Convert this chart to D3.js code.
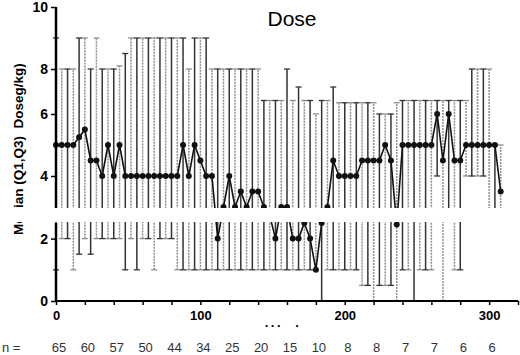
<!DOCTYPE html>
<html lang="en">
<head>
<meta charset="UTF-8">
<title>Dose</title>
<script src="https://d3js.org/d3.v7.min.js"></script>
<style>
    body {margin: 0; background: #fff;}
    svg {display: block; font-family: "Liberation Sans", Arial, sans-serif;}
</style>
</head>
<body>
<script>
    const width = 520;
    const height = 355;

    // day of each measurement
    const days = [0, 4, 8, 12, 16, 20, 24, 28, 32, 36, 40, 44, 48, 52, 56, 60, 64, 68, 72, 76,
        80, 84, 88, 92, 96, 100, 104, 108, 112, 116, 120, 124, 128, 132, 136, 140, 144, 148, 152, 156,
        160, 164, 168, 172, 176, 180, 184, 188, 192, 196, 200, 204, 208, 212, 216, 220, 224, 228, 232, 236,
        240, 244, 248, 252, 256, 260, 264, 268, 272, 276, 280, 284, 288, 292, 296, 300, 304, 308];

    const median = [5, 5, 5, 5, 5.25, 5.5, 4.5, 4.5, 4, 5,
        4, 5, 4, 4, 4, 4, 4, 4, 4, 4,
        4, 4, 5, 4, 5, 4.5, 4, 4, 2, 3,
        4, 3, 3.5, 3, 3.5, 3.5, 3, 2.75, 2, 3,
        3, 2, 2, 2.5, 2, 1, 2.5, 3, 4.5, 4,
        4, 4, 4, 4.5, 4.5, 4.5, 4.5, 5, 4.5, 2.45,
        5, 5, 5, 5, 5, 5, 6, 4.5, 6, 4.5,
        4.5, 5, 5, 5, 5, 5, 5, 3.5];

    const q1 = [1, 2, 2, 1, 1.5, 2, 1.5, 2, 2, 2,
        2, 2, 1, 2, 1, 2, 2, 1, 2, 2,
        2, 1, 1, 1, 1, 1, 1, 1, 1, 1,
        1, 1, 1, 1, 1, 1, 1, 1, 1, 1,
        1, 1, 1, 1, 1, 1, 0, 1, 1, 1,
        1, 1, 1, 0.5, 0.5, 0, 0.5, 0.5, 0.5, 0,
        1, 1, 0, 1, 1, 1, 4, 0, 2.75, 1,
        1, 4, 4, 4, 4, 2.75, 2.75, 2.75];

    const q3 = [9, 8, 8, 8, 9, 9, 8, 9, 8, 8,
        8, 8.1, 8.5, 9, 9, 9, 9, 9, 9, 9,
        9, 9, 9, 8, 9, 9, 9, 8, 8, 8,
        8, 8, 8, 8, 8, 8, 6.6, 6.6, 6.6, 6.6,
        8, 6.6, 7.2, 6.6, 6.6, 6, 6.6, 6.6, 7.2, 6.5,
        6.5, 6.5, 6.5, 6.5, 6.5, 6.5, 6, 6, 6, 6.5,
        6.6, 6.6, 6.6, 6.6, 6.6, 6.6, 6.6, 6.6, 6.6, 6.6,
        6.6, 6.6, 8, 8, 8, 8, 5, 5];

    // patients still in follow-up
    const nDays = [0, 20, 40, 60, 80, 100, 120, 140, 160, 180, 200, 220, 240, 260, 280, 300];
    const nCounts = [65, 60, 57, 50, 44, 34, 25, 20, 15, 10, 8, 8, 7, 7, 6, 6];

    const yTicksUpper = [4, 6, 8, 10];
    const yTicksLower = [0, 2];
    const xTicks = [0, 20, 40, 60, 80, 100, 120, 140, 160, 180, 200, 220, 240, 260, 280, 300, 320];

    const svg = d3.select("body").append("svg")
        .attr("width", width).attr("height", height);

    const x = d3.scaleLinear().domain([0, 320]).range([56, 518]);

    // broken axis: 0-2.5 at the bottom, 3-10 on top, white band between
    const y = d3.scaleLinear()
        .domain([0, 2.5, 3, 6, 8, 10])
        .range([301, 223, 207, 114, 69, 7]);

    const dark = (i) => i % 2 === 0;

    // error bars
    const bars = svg.append("g").attr("class", "bars");
    bars.selectAll("line.bar")
        .data(days)
        .join("line")
        .attr("class", "bar")
        .attr("x1", d => x(d)).attr("x2", d => x(d))
        .attr("y1", (d, i) => y(q1[i]))
        .attr("y2", (d, i) => y(q3[i]))
        .style("stroke", (d, i) => dark(i) ? "#333" : "#8f8f8f")
        .style("stroke-dasharray", (d, i) => dark(i) ? null : "2,1")
        .style("stroke-width", 1.5);

    [q1, q3].forEach(function(q, qi) {
        bars.selectAll("line.cap" + qi)
            .data(days)
            .join("line")
            .attr("class", "cap" + qi)
            .attr("x1", d => x(d) - 3).attr("x2", d => x(d) + 3)
            .attr("y1", (d, i) => y(q[i]))
            .attr("y2", (d, i) => y(q[i]))
            .style("stroke", (d, i) => dark(i) ? "#333" : "#8f8f8f")
            .style("stroke-width", 1.3);
    });

    // medians
    const line = d3.line()
        .x(d => x(d))
        .y((d, i) => y(median[i]));

    svg.append("path")
        .datum(days)
        .attr("d", line)
        .style("fill", "none")
        .style("stroke", "#111")
        .style("stroke-width", 1.6);

    svg.selectAll("circle.pt")
        .data(days)
        .join("circle")
        .attr("class", "pt")
        .attr("cx", d => x(d))
        .attr("cy", (d, i) => y(median[i]))
        .attr("r", 3)
        .style("fill", "#111");

    // y title goes under the break band, like the original
    svg.append("text")
        .attr("transform", "translate(23,235) rotate(-90)")
        .style("font-size", "13.5px")
        .style("font-weight", "bold")
        .style("white-space", "pre")
        .text("Median (Q1,Q3)  Doseg/kg)");

    // axis break
    svg.append("rect")
        .attr("x", 0).attr("y", y(3) + 1)
        .attr("width", width).attr("height", y(2.5) - y(3) - 2)
        .style("fill", "#fff");

    function styleAxis(g) {
        g.select(".domain").remove();
        g.selectAll("line").style("stroke", "#000").style("stroke-width", 1.5);
        g.selectAll("text")
            .style("font-family", "'Liberation Sans', Arial, sans-serif")
            .style("font-weight", "bold")
            .style("font-size", "14px")
            .style("fill", "#000");
    }

    svg.append("g")
        .attr("transform", "translate(56,0)")
        .call(d3.axisLeft(y).tickValues(yTicksUpper.concat(yTicksLower)).tickSize(5).tickPadding(3))
        .call(styleAxis);

    // y axis line in two parts
    [[3, 10], [0, 2.5]].forEach(function(seg) {
        svg.append("line")
            .attr("x1", 56).attr("x2", 56)
            .attr("y1", y(seg[0]) + 1).attr("y2", y(seg[1]))
            .style("stroke", "#000")
            .style("stroke-width", 2.5);
    });

    svg.append("g")
        .attr("transform", "translate(0,301)")
        .call(d3.axisBottom(x).tickValues(xTicks).tickSize(4).tickPadding(6)
            .tickFormat(d => d % 100 === 0 ? d : ""))
        .call(styleAxis)
        .call(g => g.selectAll("text").style("font-size", "13px"));

    svg.append("line")
        .attr("x1", 55).attr("x2", x(320))
        .attr("y1", 301).attr("y2", 301)
        .style("stroke", "#000")
        .style("stroke-width", 2);

    // title and labels
    svg.append("text")
        .attr("x", 292).attr("y", 26)
        .attr("text-anchor", "middle")
        .style("font-size", "21px")
        .text("Dose");

    svg.append("text")
        .attr("x", 283).attr("y", 327)
        .attr("text-anchor", "middle")
        .style("font-size", "13px")
        .style("font-weight", "bold")
        .style("letter-spacing", "2.5px")
        .style("white-space", "pre")
        .text("...  .");

    svg.append("text")
        .attr("x", 2).attr("y", 352)
        .style("font-size", "13px")
        .style("fill", "#333")
        .style("white-space", "pre")
        .text("n =");

    svg.selectAll("text.n")
        .data(nDays)
        .join("text")
        .attr("class", "n")
        .attr("x", d => x(d) + 3)
        .attr("y", 352)
        .attr("text-anchor", "middle")
        .style("font-size", "13px")
        .style("fill", "#333")
        .text((d, i) => nCounts[i]);
</script>
</body>
</html>
